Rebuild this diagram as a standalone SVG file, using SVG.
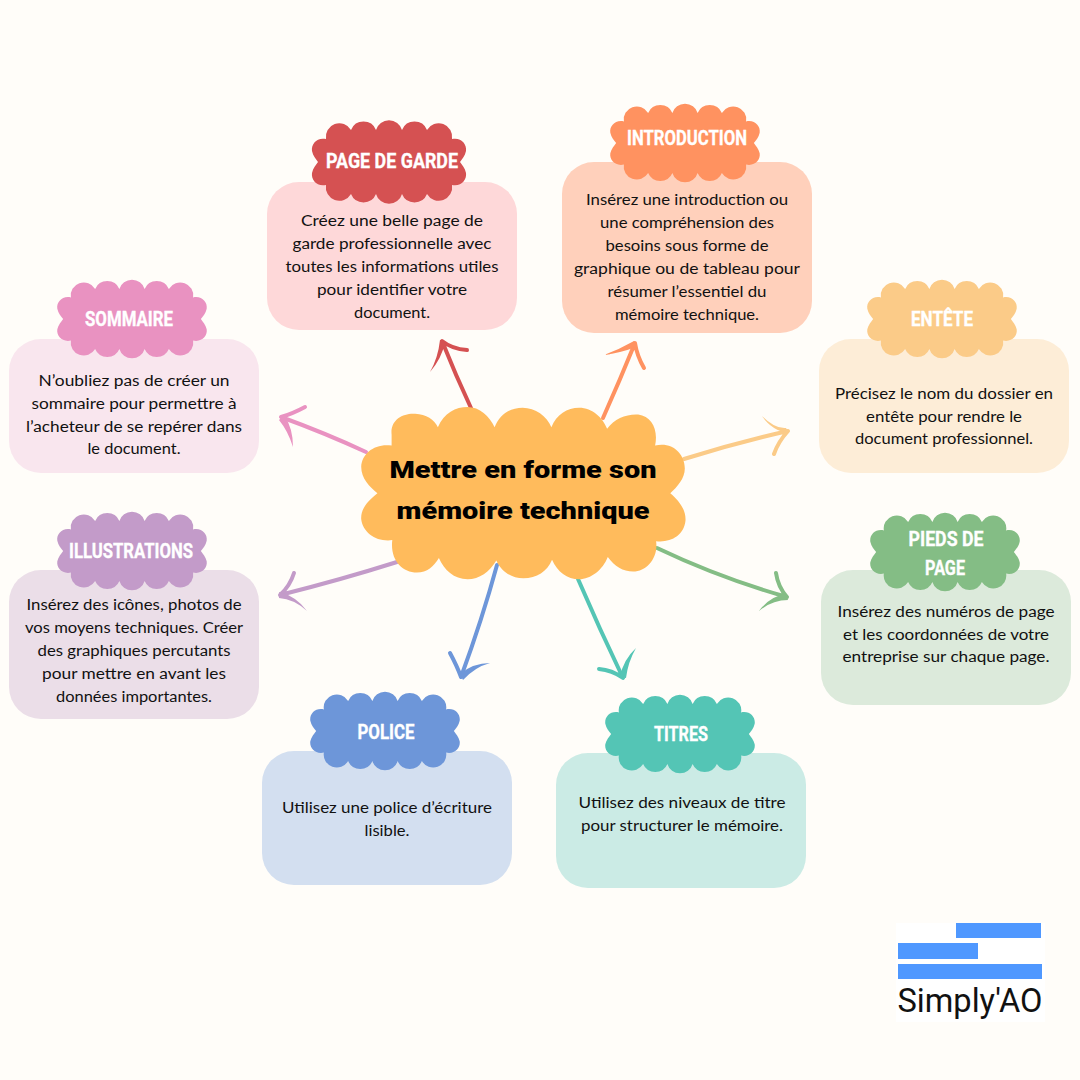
<svg xmlns="http://www.w3.org/2000/svg" width="1080" height="1080" viewBox="0 0 1080 1080">
<style>
.body{font-family:"Lato","Noto Sans",sans-serif;font-size:15.5px;fill:#111;text-anchor:middle}
.head{font-family:"Liberation Sans Narrow","Roboto","Liberation Sans",sans-serif;font-weight:700;font-size:21px;fill:#fff;stroke:#fff;stroke-width:.35px;text-anchor:middle}
.title{font-family:"Roboto","Inter",sans-serif;font-weight:900;font-size:24px;fill:#000;text-anchor:middle}
.c{fill:none;stroke-width:4;stroke-linecap:round;stroke-linejoin:round}
</style>
<defs>
<path id="cloud" d="M-63,-23A13.500,13.500 0 0 1 -38,-32A13.500,13.500 0 0 1 -13,-32A13.500,13.500 0 0 1 13,-32A13.500,13.500 0 0 1 38,-32A13.500,13.500 0 0 1 63,-23C72,-25 78,-18 77,-11C76,-6 73,-3 71,0C73,3 76,6 77,11C78,18 72,25 63,23A13.500,13.500 0 0 1 38,32A13.500,13.500 0 0 1 13,32A13.500,13.500 0 0 1 -13,32A13.500,13.500 0 0 1 -38,32A13.500,13.500 0 0 1 -63,23C-72,25 -78,18 -77,11C-76,6 -73,3 -71,0C-73,-3 -76,-6 -77,-11C-78,-18 -72,-25 -63,-23Z"/>
</defs>
<rect width="1080" height="1080" fill="#fffdf9"/>
<g id="connectors">
<g class="c">
<path stroke="#d55152" d="M471,408Q456,376 442,341Q452,349 467,350"/>
<path stroke="#ff9260" d="M603,418Q620,380 635,343Q637,356 644,368"/>
<path stroke="#fbcb88" d="M684,459Q735,443 788,431Q778,442 774,454"/>
<path stroke="#84bd85" d="M657,548Q720,578 787,597Q778,587 776,573"/>
<path stroke="#54c5b5" d="M578,579Q600,630 623,678Q612,670 599,669"/>
<path stroke="#6d96d9" d="M497,565Q482,620 461,677Q457,666 450,653"/>
<path stroke="#c39bc9" d="M397,562Q340,580 280,595Q290,586 294,573"/>
<path stroke="#e992c1" d="M366,452Q325,433 281,417Q292,414 305,407"/>
</g>
<path fill="#d55152" d="M430,372Q438,358 440,340L445,342Q442,358 430,372Z"/>
<path fill="#ff9260" d="M604,355Q620,349 634,341L636,347Q620,353 604,355Z"/>
<path fill="#fbcb88" d="M762,416Q775,429 786,428L789,433Q772,431 762,416Z"/>
<path fill="#84bd85" d="M759,611Q770,596 786,594L788,600Q772,600 759,611Z"/>
<path fill="#54c5b5" d="M636,648Q623,660 620,677L626,678Q628,662 636,648Z"/>
<path fill="#6d96d9" d="M490,663Q473,663 460,674L463,680Q475,667 490,663Z"/>
<path fill="#c39bc9" d="M307,611Q296,596 279,592L279,598Q294,599 307,611Z"/>
<path fill="#e992c1" d="M293,447Q293,428 284,415L279,420Q288,431 293,447Z"/>
</g>
<g id="node-page-de-garde">
<rect x="267" y="182" width="250" height="148" rx="32" fill="#fed8d9"/>
<use href="#cloud" transform="translate(389,162)" fill="#d55152"/>
<text class="head" x="392" y="168" textLength="132" lengthAdjust="spacingAndGlyphs">PAGE DE GARDE</text>
<text class="body" x="392" y="226" textLength="182" lengthAdjust="spacingAndGlyphs">Créez une belle page de</text>
<text class="body" x="392" y="249" textLength="199" lengthAdjust="spacingAndGlyphs">garde professionnelle avec</text>
<text class="body" x="392" y="272" textLength="213" lengthAdjust="spacingAndGlyphs">toutes les informations utiles</text>
<text class="body" x="392" y="295" textLength="150" lengthAdjust="spacingAndGlyphs">pour identifier votre</text>
<text class="body" x="392" y="318" textLength="76" lengthAdjust="spacingAndGlyphs">document.</text>
</g>
<g id="node-introduction">
<rect x="562" y="162" width="250" height="171" rx="32" fill="#ffd0bb"/>
<use href="#cloud" transform="translate(685,143) scale(.97,.94)" fill="#ff9260"/>
<text class="head" x="687" y="145" textLength="120" lengthAdjust="spacingAndGlyphs">INTRODUCTION</text>
<text class="body" x="687" y="205" textLength="202" lengthAdjust="spacingAndGlyphs">Insérez une introduction ou</text>
<text class="body" x="687" y="228" textLength="174" lengthAdjust="spacingAndGlyphs">une compréhension des</text>
<text class="body" x="687" y="251" textLength="163" lengthAdjust="spacingAndGlyphs">besoins sous forme de</text>
<text class="body" x="687" y="274" textLength="226" lengthAdjust="spacingAndGlyphs">graphique ou de tableau pour</text>
<text class="body" x="687" y="297" textLength="159" lengthAdjust="spacingAndGlyphs">résumer l’essentiel du</text>
<text class="body" x="687" y="320" textLength="144" lengthAdjust="spacingAndGlyphs">mémoire technique.</text>
</g>
<g id="node-entete">
<rect x="819" y="339" width="250" height="134" rx="32" fill="#fdedd7"/>
<use href="#cloud" transform="translate(942,319) scale(.97,.94)" fill="#fbcb88"/>
<text class="head" x="942" y="326" textLength="62" lengthAdjust="spacingAndGlyphs">ENTÊTE</text>
<text class="body" x="944" y="399" textLength="218" lengthAdjust="spacingAndGlyphs">Précisez le nom du dossier en</text>
<text class="body" x="944" y="422" textLength="156" lengthAdjust="spacingAndGlyphs">entête pour rendre le</text>
<text class="body" x="944" y="444" textLength="178" lengthAdjust="spacingAndGlyphs">document professionnel.</text>
</g>
<g id="node-pieds-de-page">
<rect x="821" y="570" width="250" height="135" rx="32" fill="#dceadb"/>
<use href="#cloud" transform="translate(945,552) scale(.97,.94)" fill="#84bd85"/>
<text class="head" x="946" y="546" textLength="75" lengthAdjust="spacingAndGlyphs">PIEDS DE</text>
<text class="head" x="945" y="575" textLength="40" lengthAdjust="spacingAndGlyphs">PAGE</text>
<text class="body" x="946" y="617" textLength="217" lengthAdjust="spacingAndGlyphs">Insérez des numéros de page</text>
<text class="body" x="946" y="640" textLength="206" lengthAdjust="spacingAndGlyphs">et les coordonnées de votre</text>
<text class="body" x="946" y="662" textLength="207" lengthAdjust="spacingAndGlyphs">entreprise sur chaque page.</text>
</g>
<g id="node-titres">
<rect x="556" y="753" width="250" height="135" rx="32" fill="#cbebe5"/>
<use href="#cloud" transform="translate(680,734) scale(.97,.94)" fill="#54c5b5"/>
<text class="head" x="681" y="741" textLength="54" lengthAdjust="spacingAndGlyphs">TITRES</text>
<text class="body" x="682" y="808" textLength="207" lengthAdjust="spacingAndGlyphs">Utilisez des niveaux de titre</text>
<text class="body" x="682" y="831" textLength="202" lengthAdjust="spacingAndGlyphs">pour structurer le mémoire.</text>
</g>
<g id="node-police">
<rect x="262" y="751" width="250" height="134" rx="32" fill="#d3dff0"/>
<use href="#cloud" transform="translate(385,731) scale(.97,.94)" fill="#6d96d9"/>
<text class="head" x="386" y="739" textLength="57" lengthAdjust="spacingAndGlyphs">POLICE</text>
<text class="body" x="387" y="813" textLength="210" lengthAdjust="spacingAndGlyphs">Utilisez une police d’écriture</text>
<text class="body" x="387" y="836" textLength="45" lengthAdjust="spacingAndGlyphs">lisible.</text>
</g>
<g id="node-illustrations">
<rect x="9" y="570" width="250" height="149" rx="32" fill="#ebdee8"/>
<use href="#cloud" transform="translate(132,551) scale(.97,.94)" fill="#c39bc9"/>
<text class="head" x="131" y="558" textLength="124" lengthAdjust="spacingAndGlyphs">ILLUSTRATIONS</text>
<text class="body" x="134" y="610" textLength="215" lengthAdjust="spacingAndGlyphs">Insérez des icônes, photos de</text>
<text class="body" x="134" y="633" textLength="218" lengthAdjust="spacingAndGlyphs">vos moyens techniques. Créer</text>
<text class="body" x="134" y="656" textLength="193" lengthAdjust="spacingAndGlyphs">des graphiques percutants</text>
<text class="body" x="134" y="679" textLength="184" lengthAdjust="spacingAndGlyphs">pour mettre en avant les</text>
<text class="body" x="134" y="702" textLength="156" lengthAdjust="spacingAndGlyphs">données importantes.</text>
</g>
<g id="node-sommaire">
<rect x="9" y="339" width="250" height="134" rx="32" fill="#f9e6ee"/>
<use href="#cloud" transform="translate(132,319) scale(.97,.94)" fill="#e992c1"/>
<text class="head" x="129" y="326" textLength="88" lengthAdjust="spacingAndGlyphs">SOMMAIRE</text>
<text class="body" x="134" y="386" textLength="191" lengthAdjust="spacingAndGlyphs">N’oubliez pas de créer un</text>
<text class="body" x="134" y="409" textLength="205" lengthAdjust="spacingAndGlyphs">sommaire pour permettre à</text>
<text class="body" x="134" y="432" textLength="216" lengthAdjust="spacingAndGlyphs">l’acheteur de se repérer dans</text>
<text class="body" x="134" y="454" textLength="93" lengthAdjust="spacingAndGlyphs">le document.</text>
</g>
<g id="node-center">
<path fill="#ffbb5c" transform="translate(270,330) scale(.3378)" d="M360,310C355,265 395,245 430,248C462,250 487,265 497,288C515,245 550,228 585,228C620,228 650,255 665,288C680,250 710,230 748,230C785,230 820,255 833,288C848,250 880,230 915,230C955,230 985,260 998,292C1020,262 1055,248 1090,250C1130,255 1150,295 1140,342C1190,330 1228,365 1228,410C1228,440 1205,465 1185,483C1210,505 1232,530 1230,565C1225,610 1185,630 1143,625C1150,675 1115,715 1075,715C1045,715 1020,700 1000,672C985,710 950,738 915,738C880,738 850,715 835,680C820,715 790,735 750,735C715,735 685,715 670,682C650,715 620,738 585,738C545,738 515,710 500,675C485,700 465,718 435,718C390,718 355,680 362,622C315,628 275,600 270,560C268,530 290,505 318,483C295,465 270,440 270,405C272,365 310,335 360,342Z"/>
<text class="title" x="523" y="478" textLength="267" lengthAdjust="spacingAndGlyphs">Mettre en forme son</text>
<text class="title" x="523" y="519" textLength="253" lengthAdjust="spacingAndGlyphs">mémoire technique</text>
</g>
<g id="logo">
<rect x="896" y="923" width="149" height="99" fill="#fff"/>
<rect x="956" y="923" width="85" height="15" fill="#4f98ff"/>
<rect x="898" y="943" width="80" height="16" fill="#4f98ff"/>
<rect x="898" y="964" width="144" height="15" fill="#4f98ff"/>
<text x="970" y="1012" text-anchor="middle" font-family="Roboto,sans-serif" font-size="33" fill="#111" textLength="145" lengthAdjust="spacingAndGlyphs">Simply'AO</text>
</g>
</svg>
